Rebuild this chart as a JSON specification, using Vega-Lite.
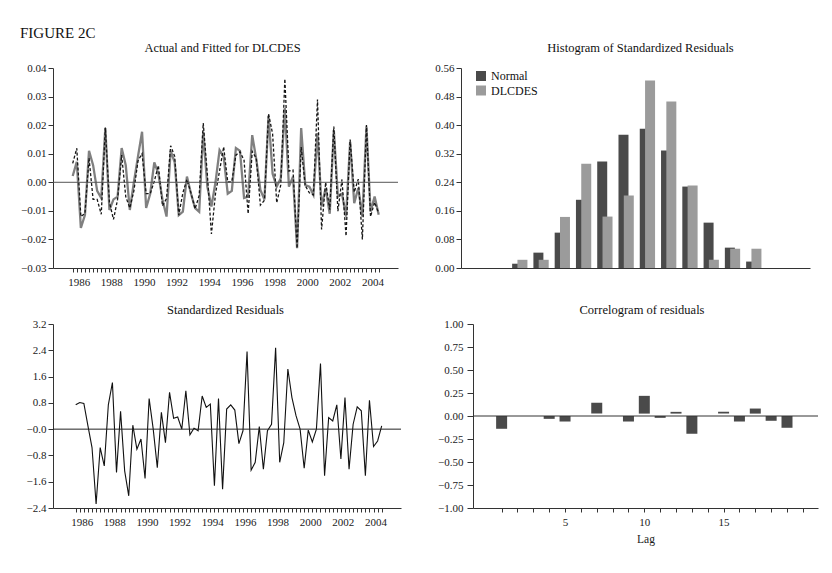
{
  "$schema": "https://vega.github.io/schema/vega-lite/v6.json",
  "background": "white",
  "padding": {"left": 5, "top": 26, "right": 5, "bottom": 5},
  "title": {"text": "FIGURE 2C", "anchor": "start", "frame": "group", "dx": -33, "fontSize": 15, "font": "Liberation Serif", "fontWeight": "normal", "color": "#111", "offset": 1},
  "config": {
    "font": "Liberation Serif",
    "view": {"stroke": null},
    "title": {"font": "Liberation Serif", "fontSize": 12.5, "fontWeight": "normal", "color": "#111"},
    "axis": {"labelFont": "Liberation Serif", "labelFontSize": 11, "labelColor": "#1a1a1a", "domainColor": "#333", "tickColor": "#333", "grid": false, "labelOverlap": false, "titleFont": "Liberation Serif", "titleFontWeight": "normal", "titleFontSize": 11.5, "titleColor": "#1a1a1a"}
  },
  "datasets": {
    "ts": [
      {"t": 1986.00, "fitted": 0.0022, "actual": 0.0066, "resid": 0.74},
      {"t": 1986.25, "fitted": 0.0072, "actual": 0.0119, "resid": 0.81},
      {"t": 1986.50, "fitted": -0.0160, "actual": -0.0120, "resid": 0.78},
      {"t": 1986.75, "fitted": -0.0115, "actual": -0.0109, "resid": 0.10},
      {"t": 1987.00, "fitted": 0.0110, "actual": 0.0085, "resid": -0.56},
      {"t": 1987.25, "fitted": 0.0060, "actual": -0.0060, "resid": -2.28},
      {"t": 1987.50, "fitted": -0.0030, "actual": -0.0060, "resid": -0.56},
      {"t": 1987.75, "fitted": -0.0055, "actual": -0.0112, "resid": -1.12},
      {"t": 1988.00, "fitted": 0.0190, "actual": 0.0192, "resid": 0.74},
      {"t": 1988.25, "fitted": -0.0097, "actual": -0.0070, "resid": 1.42},
      {"t": 1988.50, "fitted": -0.0060, "actual": -0.0130, "resid": -1.32},
      {"t": 1988.75, "fitted": -0.0050, "actual": -0.0060, "resid": 0.54},
      {"t": 1989.00, "fitted": 0.0120, "actual": 0.0095, "resid": -1.27},
      {"t": 1989.25, "fitted": 0.0060, "actual": -0.0050, "resid": -2.03},
      {"t": 1989.50, "fitted": -0.0097, "actual": -0.0090, "resid": 0.12},
      {"t": 1989.75, "fitted": 0.0000, "actual": -0.0030, "resid": -0.61},
      {"t": 1990.00, "fitted": 0.0090, "actual": 0.0075, "resid": -0.30},
      {"t": 1990.25, "fitted": 0.0177, "actual": 0.0100, "resid": -1.50},
      {"t": 1990.50, "fitted": -0.0090, "actual": -0.0040, "resid": 0.93},
      {"t": 1990.75, "fitted": -0.0040, "actual": -0.0040, "resid": 0.00},
      {"t": 1991.00, "fitted": 0.0070, "actual": 0.0004, "resid": -1.17},
      {"t": 1991.25, "fitted": 0.0030, "actual": 0.0059, "resid": 0.51},
      {"t": 1991.50, "fitted": -0.0060, "actual": -0.0083, "resid": -0.41},
      {"t": 1991.75, "fitted": -0.0120, "actual": -0.0057, "resid": 1.12},
      {"t": 1992.00, "fitted": 0.0110, "actual": 0.0128, "resid": 0.33},
      {"t": 1992.25, "fitted": 0.0070, "actual": 0.0091, "resid": 0.37},
      {"t": 1992.50, "fitted": -0.0115, "actual": -0.0115, "resid": 0.00},
      {"t": 1992.75, "fitted": -0.0103, "actual": -0.0037, "resid": 1.17},
      {"t": 1993.00, "fitted": 0.0020, "actual": 0.0010, "resid": -0.17},
      {"t": 1993.25, "fitted": -0.0040, "actual": -0.0038, "resid": 0.03},
      {"t": 1993.50, "fitted": -0.0090, "actual": -0.0093, "resid": -0.05},
      {"t": 1993.75, "fitted": -0.0103, "actual": -0.0046, "resid": 1.01},
      {"t": 1994.00, "fitted": 0.0177, "actual": 0.0207, "resid": 0.66},
      {"t": 1994.25, "fitted": -0.0015, "actual": 0.0028, "resid": 0.76},
      {"t": 1994.50, "fitted": -0.0085, "actual": -0.0181, "resid": -1.72},
      {"t": 1994.75, "fitted": 0.0000, "actual": -0.0040, "resid": 0.93},
      {"t": 1995.00, "fitted": 0.0113, "actual": 0.0040, "resid": -1.83},
      {"t": 1995.25, "fitted": 0.0090, "actual": 0.0124, "resid": 0.61},
      {"t": 1995.50, "fitted": -0.0040, "actual": 0.0001, "resid": 0.74},
      {"t": 1995.75, "fitted": -0.0030, "actual": 0.0002, "resid": 0.58},
      {"t": 1996.00, "fitted": 0.0120, "actual": 0.0095, "resid": -0.44},
      {"t": 1996.25, "fitted": 0.0110, "actual": 0.0107, "resid": -0.05},
      {"t": 1996.50, "fitted": -0.0055, "actual": 0.0077, "resid": 2.36},
      {"t": 1996.75, "fitted": -0.0050, "actual": -0.0110, "resid": -1.25},
      {"t": 1997.00, "fitted": 0.0165, "actual": 0.0108, "resid": -1.01},
      {"t": 1997.25, "fitted": 0.0080, "actual": 0.0084, "resid": 0.08},
      {"t": 1997.50, "fitted": -0.0027, "actual": -0.0080, "resid": -1.22},
      {"t": 1997.75, "fitted": -0.0060, "actual": -0.0063, "resid": -0.05},
      {"t": 1998.00, "fitted": 0.0232, "actual": 0.0240, "resid": 0.15},
      {"t": 1998.25, "fitted": 0.0030, "actual": 0.0169, "resid": 2.48},
      {"t": 1998.50, "fitted": -0.0015, "actual": -0.0072, "resid": -1.01},
      {"t": 1998.75, "fitted": 0.0014, "actual": -0.0009, "resid": -0.41},
      {"t": 1999.00, "fitted": 0.0260, "actual": 0.0362, "resid": 1.83},
      {"t": 1999.25, "fitted": -0.0015, "actual": 0.0039, "resid": 0.96},
      {"t": 1999.50, "fitted": 0.0020, "actual": 0.0043, "resid": 0.41},
      {"t": 1999.75, "fitted": -0.0231, "actual": -0.0231, "resid": 0.00},
      {"t": 2000.00, "fitted": 0.0190, "actual": 0.0123, "resid": -1.19},
      {"t": 2000.25, "fitted": -0.0010, "actual": -0.0012, "resid": -0.03},
      {"t": 2000.50, "fitted": -0.0015, "actual": -0.0037, "resid": -0.39},
      {"t": 2000.75, "fitted": -0.0044, "actual": -0.0044, "resid": 0.00},
      {"t": 2001.00, "fitted": 0.0172, "actual": 0.0290, "resid": 2.00},
      {"t": 2001.25, "fitted": -0.0085, "actual": -0.0165, "resid": -1.42},
      {"t": 2001.50, "fitted": -0.0020, "actual": 0.0000, "resid": 0.35},
      {"t": 2001.75, "fitted": -0.0110, "actual": -0.0096, "resid": 0.25},
      {"t": 2002.00, "fitted": 0.0183, "actual": 0.0195, "resid": 0.74},
      {"t": 2002.25, "fitted": -0.0050, "actual": -0.0101, "resid": -0.91},
      {"t": 2002.50, "fitted": -0.0040, "actual": 0.0010, "resid": 0.96},
      {"t": 2002.75, "fitted": -0.0120, "actual": -0.0188, "resid": -1.22},
      {"t": 2003.00, "fitted": 0.0142, "actual": 0.0150, "resid": 0.15},
      {"t": 2003.25, "fitted": -0.0073, "actual": -0.0035, "resid": 0.68},
      {"t": 2003.50, "fitted": -0.0020, "actual": 0.0011, "resid": 0.56},
      {"t": 2003.75, "fitted": -0.0120, "actual": -0.0200, "resid": -1.42},
      {"t": 2004.00, "fitted": 0.0195, "actual": 0.0200, "resid": 0.88},
      {"t": 2004.25, "fitted": -0.0103, "actual": -0.0120, "resid": -0.53},
      {"t": 2004.50, "fitted": -0.0050, "actual": -0.0070, "resid": -0.36},
      {"t": 2004.75, "fitted": -0.0114, "actual": -0.0108, "resid": 0.10}
    ],
    "hist": [
      {"bin": -2.75, "series": "Normal", "density": 0.012},
      {"bin": -2.25, "series": "Normal", "density": 0.043},
      {"bin": -1.75, "series": "Normal", "density": 0.099},
      {"bin": -1.25, "series": "Normal", "density": 0.191},
      {"bin": -0.75, "series": "Normal", "density": 0.298},
      {"bin": -0.25, "series": "Normal", "density": 0.373},
      {"bin": 0.25, "series": "Normal", "density": 0.390},
      {"bin": 0.75, "series": "Normal", "density": 0.329},
      {"bin": 1.25, "series": "Normal", "density": 0.228},
      {"bin": 1.75, "series": "Normal", "density": 0.127},
      {"bin": 2.25, "series": "Normal", "density": 0.057},
      {"bin": 2.75, "series": "Normal", "density": 0.018},
      {"bin": -2.75, "series": "DLCDES", "density": 0.023},
      {"bin": -2.25, "series": "DLCDES", "density": 0.023},
      {"bin": -1.75, "series": "DLCDES", "density": 0.143},
      {"bin": -1.25, "series": "DLCDES", "density": 0.292},
      {"bin": -0.75, "series": "DLCDES", "density": 0.144},
      {"bin": -0.25, "series": "DLCDES", "density": 0.203},
      {"bin": 0.25, "series": "DLCDES", "density": 0.525},
      {"bin": 0.75, "series": "DLCDES", "density": 0.466},
      {"bin": 1.25, "series": "DLCDES", "density": 0.231},
      {"bin": 1.75, "series": "DLCDES", "density": 0.023},
      {"bin": 2.25, "series": "DLCDES", "density": 0.054},
      {"bin": 2.75, "series": "DLCDES", "density": 0.054}
    ],
    "acf": [
      {"lag": 1, "acf": -0.139, "base": 0},
      {"lag": 4, "acf": -0.031, "base": 0},
      {"lag": 5, "acf": -0.060, "base": 0},
      {"lag": 7, "acf": 0.143, "base": 0.026},
      {"lag": 9, "acf": -0.060, "base": 0},
      {"lag": 10, "acf": 0.219, "base": 0.026},
      {"lag": 11, "acf": -0.020, "base": 0},
      {"lag": 12, "acf": 0.045, "base": 0.026},
      {"lag": 13, "acf": -0.193, "base": 0},
      {"lag": 15, "acf": 0.045, "base": 0.026},
      {"lag": 16, "acf": -0.060, "base": 0},
      {"lag": 17, "acf": 0.081, "base": 0.026},
      {"lag": 18, "acf": -0.052, "base": 0},
      {"lag": 19, "acf": -0.128, "base": 0}
    ]
  },
  "spacing": 17,
  "vconcat": [
    {
      "spacing": 22,
      "hconcat": [
        {
          "width": 345, "height": 200,
          "title": {"text": "Actual and Fitted for DLCDES", "frame": "group", "dx": -3, "offset": 7.5},
          "layer": [
            {
              "data": {"name": "ts"},
              "mark": {"type": "line", "color": "#808080", "strokeWidth": 2.3},
              "encoding": {
                "x": {"field": "t", "type": "quantitative",
                  "scale": {"domain": [1984.793, 2005.933], "nice": false, "zero": false},
                  "axis": {"title": null, "values": [1986,1986.25,1986.5,1986.75,1987,1987.25,1987.5,1987.75,1988,1988.25,1988.5,1988.75,1989,1989.25,1989.5,1989.75,1990,1990.25,1990.5,1990.75,1991,1991.25,1991.5,1991.75,1992,1992.25,1992.5,1992.75,1993,1993.25,1993.5,1993.75,1994,1994.25,1994.5,1994.75,1995,1995.25,1995.5,1995.75,1996,1996.25,1996.5,1996.75,1997,1997.25,1997.5,1997.75,1998,1998.25,1998.5,1998.75,1999,1999.25,1999.5,1999.75,2000,2000.25,2000.5,2000.75,2001,2001.25,2001.5,2001.75,2002,2002.25,2002.5,2002.75,2003,2003.25,2003.5,2003.75,2004,2004.25,2004.5,2004.75],
                    "labelExpr": "datum.value % 2 == 0 ? '' + datum.value : ''", "labelOffset": 6, "labelOverlap": false, "labelFlush": false, "labelBound": false, "tickSize": 4, "labelPadding": 4}},
                "y": {"field": "fitted", "type": "quantitative",
                  "scale": {"domain": [-0.03, 0.04], "nice": false, "zero": false},
                  "axis": {"title": null, "values": [-0.03,-0.02,-0.01,0,0.01,0.02,0.03,0.04], "format": ".2f", "labelOverlap": false, "tickSize": 5, "labelPadding": 2, "minExtent": 48, "maxExtent": 48}}
              }
            },
            {
              "data": {"name": "ts"},
              "mark": {"type": "line", "color": "#151515", "strokeWidth": 1.3, "strokeDash": [3, 2]},
              "encoding": {
                "x": {"field": "t", "type": "quantitative",
                  "axis": {"title": null, "values": [1986,1986.25,1986.5,1986.75,1987,1987.25,1987.5,1987.75,1988,1988.25,1988.5,1988.75,1989,1989.25,1989.5,1989.75,1990,1990.25,1990.5,1990.75,1991,1991.25,1991.5,1991.75,1992,1992.25,1992.5,1992.75,1993,1993.25,1993.5,1993.75,1994,1994.25,1994.5,1994.75,1995,1995.25,1995.5,1995.75,1996,1996.25,1996.5,1996.75,1997,1997.25,1997.5,1997.75,1998,1998.25,1998.5,1998.75,1999,1999.25,1999.5,1999.75,2000,2000.25,2000.5,2000.75,2001,2001.25,2001.5,2001.75,2002,2002.25,2002.5,2002.75,2003,2003.25,2003.5,2003.75,2004,2004.25,2004.5,2004.75],
                    "labelExpr": "datum.value % 2 == 0 ? '' + datum.value : ''", "labelOffset": 6, "labelOverlap": false, "labelFlush": false, "labelBound": false, "tickSize": 4, "labelPadding": 4}},
                "y": {"field": "actual", "type": "quantitative",
                  "axis": {"title": null, "values": [-0.03,-0.02,-0.01,0,0.01,0.02,0.03,0.04], "format": ".2f", "labelOverlap": false, "tickSize": 5, "labelPadding": 2, "minExtent": 48, "maxExtent": 48}}
              }
            },
            {
              "data": {"values": [{}]},
              "mark": {"type": "rule", "color": "#555", "strokeWidth": 1},
              "encoding": {"y": {"datum": 0, "type": "quantitative",
                "axis": {"title": null, "values": [-0.03,-0.02,-0.01,0,0.01,0.02,0.03,0.04], "format": ".2f", "labelOverlap": false, "tickSize": 5, "labelPadding": 2, "minExtent": 48, "maxExtent": 48}}}
            }
          ]
        },
        {
          "width": 349, "height": 200,
          "title": {"text": "Histogram of Standardized Residuals", "frame": "group", "dx": 5, "offset": 7.5},
          "data": {"name": "hist"},
          "encoding": {
            "x": {"field": "bin", "type": "quantitative", "scale": {"domain": [-4.014, 3.954], "nice": false, "zero": false},
              "axis": {"title": null, "ticks": false, "labels": false, "domain": true}},
            "y": {"field": "density", "type": "quantitative", "scale": {"domain": [0, 0.56], "nice": false},
              "axis": {"title": null, "values": [0,0.08,0.16,0.24,0.32,0.4,0.48,0.56], "format": ".2f", "labelOverlap": false, "tickSize": 5, "labelPadding": 2, "minExtent": 40, "maxExtent": 40}},
            "color": {"field": "series", "type": "nominal",
              "scale": {"domain": ["Normal", "DLCDES"], "range": ["#4a4a4a", "#9b9b9b"]},
              "legend": {"title": null, "orient": "none", "legendX": 422, "legendY": 2, "symbolType": "square", "symbolSize": 100, "symbolStrokeWidth": 0, "symbolOpacity": 1, "labelFont": "Liberation Serif", "labelFontSize": 12, "labelColor": "#111", "rowPadding": 2.5, "labelOffset": 4}}
          },
          "layer": [
            {"transform": [{"filter": "datum.series == 'Normal'"}], "mark": {"type": "bar", "width": 10, "xOffset": -2.65, "opacity": 1}},
            {"transform": [{"filter": "datum.series == 'DLCDES'"}], "mark": {"type": "bar", "width": 10, "xOffset": 2.65, "opacity": 1}}
          ]
        }
      ]
    },
    {
      "spacing": 26,
      "hconcat": [
        {
          "width": 348, "height": 184,
          "title": {"text": "Standardized Residuals", "frame": "group", "dx": -1.5, "offset": 1.5},
          "layer": [
            {
              "data": {"name": "ts"},
              "mark": {"type": "line", "color": "#111", "strokeWidth": 1.1},
              "encoding": {
                "x": {"field": "t", "type": "quantitative",
                  "scale": {"domain": [1984.609, 2005.933], "nice": false, "zero": false},
                  "axis": {"title": null, "values": [1986,1986.25,1986.5,1986.75,1987,1987.25,1987.5,1987.75,1988,1988.25,1988.5,1988.75,1989,1989.25,1989.5,1989.75,1990,1990.25,1990.5,1990.75,1991,1991.25,1991.5,1991.75,1992,1992.25,1992.5,1992.75,1993,1993.25,1993.5,1993.75,1994,1994.25,1994.5,1994.75,1995,1995.25,1995.5,1995.75,1996,1996.25,1996.5,1996.75,1997,1997.25,1997.5,1997.75,1998,1998.25,1998.5,1998.75,1999,1999.25,1999.5,1999.75,2000,2000.25,2000.5,2000.75,2001,2001.25,2001.5,2001.75,2002,2002.25,2002.5,2002.75,2003,2003.25,2003.5,2003.75,2004,2004.25,2004.5,2004.75],
                    "labelExpr": "datum.value % 2 == 0 ? '' + datum.value : ''", "labelOffset": 6, "labelOverlap": false, "labelFlush": false, "labelBound": false, "tickSize": 4, "labelPadding": 4}},
                "y": {"field": "resid", "type": "quantitative",
                  "scale": {"domain": [-2.4, 3.2], "nice": false, "zero": false},
                  "axis": {"title": null, "values": [-2.4,-1.6,-0.8,0,0.8,1.6,2.4,3.2], "labelExpr": "datum.value == 0 ? '\u22120.0' : format(datum.value, '.1f')", "labelOverlap": false, "tickSize": 5, "labelPadding": 2, "minExtent": 45, "maxExtent": 45}}
              }
            },
            {
              "data": {"values": [{}]},
              "mark": {"type": "rule", "color": "#222", "strokeWidth": 1},
              "encoding": {"y": {"datum": 0, "type": "quantitative",
                "axis": {"title": null, "values": [-2.4,-1.6,-0.8,0,0.8,1.6,2.4,3.2], "labelExpr": "datum.value == 0 ? '\u22120.0' : format(datum.value, '.1f')", "labelOverlap": false, "tickSize": 5, "labelPadding": 2, "minExtent": 45, "maxExtent": 45}}}
            }
          ]
        },
        {
          "width": 345, "height": 184,
          "title": {"text": "Correlogram of residuals", "frame": "group", "dx": -3.5, "offset": 1.5},
          "layer": [
            {
              "data": {"name": "acf"},
              "mark": {"type": "bar", "width": 11, "color": "#4a4a4a"},
              "encoding": {
                "x": {"field": "lag", "type": "quantitative",
                  "scale": {"domain": [-0.49, 20.64], "nice": false, "zero": false},
                  "axis": {"title": "Lag", "values": [1,2,3,4,5,6,7,8,9,10,11,12,13,14,15,16,17,18,19,20], "labelExpr": "datum.value % 5 == 0 && datum.value < 20 ? '' + datum.value : ''", "labelOverlap": false, "labelFlush": false, "labelBound": false, "tickSize": 4, "labelPadding": 4, "titlePadding": 6}},
                "y": {"field": "acf", "type": "quantitative",
                  "scale": {"domain": [-1, 1], "nice": false, "zero": false},
                  "axis": {"title": null, "values": [-1,-0.75,-0.5,-0.25,0,0.25,0.5,0.75,1], "format": ".2f", "labelOverlap": false, "tickSize": 6, "labelPadding": 4, "minExtent": 45, "maxExtent": 45}},
                "y2": {"field": "base"}
              }
            },
            {
              "data": {"values": [{}]},
              "mark": {"type": "rule", "color": "#333", "strokeWidth": 1},
              "encoding": {"y": {"datum": 0, "type": "quantitative",
                "axis": {"title": null, "values": [-1,-0.75,-0.5,-0.25,0,0.25,0.5,0.75,1], "format": ".2f", "labelOverlap": false, "tickSize": 6, "labelPadding": 4, "minExtent": 45, "maxExtent": 45}}}
            }
          ]
        }
      ]
    }
  ]
}
